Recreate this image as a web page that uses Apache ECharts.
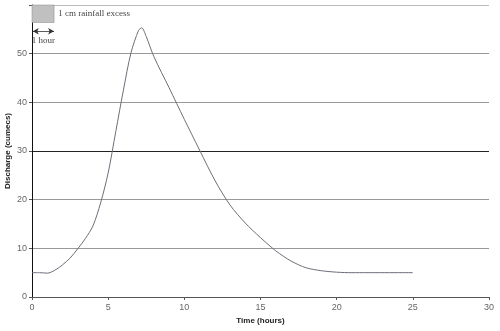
<!DOCTYPE html>
<html>
<head>
<meta charset="utf-8">
<script src="https://cdn.jsdelivr.net/npm/echarts@6/dist/echarts.min.js"></script>
<style>
  html, body { margin: 0; padding: 0; background: #fff; }
  #chart { width: 500px; height: 331px; }
</style>
</head>
<body>
<div id="chart"></div>
<script>
// Storm hydrograph: discharge response to 1 cm of rainfall excess
const timeHours = [0, 0.5, 1, 1.5, 2, 2.5, 3, 3.5, 4, 4.5, 5, 5.5, 6, 6.5, 7, 7.2, 7.5, 8, 9, 10, 11, 12, 13, 14, 15, 16, 17, 18, 19, 20, 21, 25];
const discharge = [5, 5, 4.9, 5.5, 6.6, 8, 9.9, 12, 14.6, 19.3, 25.5, 34, 42.5, 50.2, 54.8, 55.3, 53.5, 49.4, 43, 36.5, 30.2, 24, 18.9, 15.2, 12.2, 9.5, 7.4, 6, 5.4, 5.1, 5, 5];

const xTicks = { min: 0, max: 30, interval: 5 };
const yTicks = { min: 0, max: 60, interval: 10 };

// Rainfall block (time span and discharge band it occupies on the chart)
const rainBlockTime = [0, 1.45];
const rainBlockBand = [56.4, 60];
const rainLabel = '1 cm rainfall excess';
// Duration marker
const durationTime = [0.05, 1.45];
const durationLevel = 54.6;
const durationLabel = '1 hour';

const points = timeHours.map((t, i) => [t, discharge[i]]);

const chart = echarts.init(document.getElementById('chart'), null, { renderer: 'canvas' });

const tickFont = { fontFamily: 'Liberation Sans, Arial, sans-serif', fontSize: 9, color: '#666' };
const serif = 'Liberation Serif, Times New Roman, serif';

chart.setOption({
  animation: false,
  backgroundColor: '#fff',
  grid: { left: 32, right: 11, top: 5, bottom: 34, containLabel: false, outerBoundsMode: 'none' },
  xAxis: {
    type: 'value',
    min: xTicks.min, max: xTicks.max, interval: xTicks.interval,
    name: 'Time (hours)',
    nameLocation: 'middle',
    nameGap: 20,
    nameMoveOverlap: false,
    nameTextStyle: { fontFamily: 'Liberation Sans, Arial, sans-serif', fontSize: 8, fontWeight: 'bold', color: '#222' },
    axisLine: { lineStyle: { color: '#555', width: 1 } },
    axisTick: { show: true, length: 3, lineStyle: { color: '#555' } },
    axisLabel: Object.assign({ margin: 6 }, tickFont),
    splitLine: { show: false }
  },
  yAxis: {
    type: 'value',
    min: yTicks.min, max: yTicks.max, interval: yTicks.interval,
    name: 'Discharge (cumecs)',
    nameLocation: 'middle',
    nameGap: 20,
    nameRotate: 90,
    nameMoveOverlap: false,
    nameTextStyle: { fontFamily: 'Liberation Sans, Arial, sans-serif', fontSize: 8, fontWeight: 'bold', color: '#222' },
    axisLine: { show: true, lineStyle: { color: '#111', width: 1 } },
    axisTick: { show: true, length: 3, lineStyle: { color: '#555' } },
    axisLabel: Object.assign({
      margin: 5,
      formatter: v => (v === yTicks.max ? '' : String(v))
    }, tickFont),
    splitLine: {
      show: true,
      lineStyle: { color: ['#999', '#999', '#999', '#222', '#999', '#999', '#bbb'], width: 1 }
    }
  },
  series: [
    {
      type: 'line',
      data: points,
      smooth: 0.3,
      showSymbol: false,
      lineStyle: { color: '#6e6e7a', width: 1 },
      z: 3
    },
    {
      // annotations: rainfall block and duration arrow
      type: 'line',
      data: [],
      silent: true,
      markArea: {
        silent: true,
        itemStyle: { color: '#c0c0c0', borderColor: '#888', borderWidth: 0.5 },
        label: {
          show: true,
          position: 'right',
          distance: 4,
          formatter: rainLabel,
          fontFamily: serif,
          fontSize: 9,
          color: '#444'
        },
        data: [[
          { coord: [rainBlockTime[0], rainBlockBand[0]] },
          { coord: [rainBlockTime[1], rainBlockBand[1]] }
        ]]
      },
      markLine: {
        silent: true,
        symbol: ['arrow', 'arrow'],
        symbolSize: [5, 6],
        lineStyle: { color: '#333', width: 0.8, type: 'solid' },
        label: {
          show: true,
          position: 'insideMiddleBottom',
          distance: 5,
          formatter: durationLabel,
          fontFamily: serif,
          fontSize: 9,
          color: '#444'
        },
        data: [[
          { coord: [durationTime[0], durationLevel] },
          { coord: [durationTime[1], durationLevel] }
        ]]
      }
    }
  ]
});
</script>
</body>
</html>
